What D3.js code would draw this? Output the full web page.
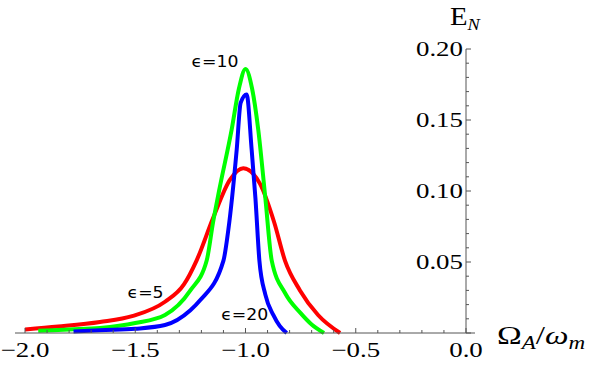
<!DOCTYPE html>
<html>
<head>
<meta charset="utf-8">
<script src="https://cdn.jsdelivr.net/npm/d3@7"></script>
<style>
  body { margin: 0; background: #fff; }
  svg { display: block; }
  .tick-label { font-family: 'Liberation Serif', serif; font-size: 21px; fill: #000; }
  .axis-title { font-family: 'Liberation Serif', serif; fill: #000; }
  .curve-label { font-family: 'DejaVu Sans', sans-serif; font-size: 16px; fill: #000; }
</style>
</head>
<body>
<svg id="chart" width="589" height="367"></svg>
<script>
// values: [Omega_A / omega_m, E_N]
const eps5 = [[-2.00, 0.0025], [-1.85, 0.0045], [-1.66, 0.0077], [-1.51, 0.012], [-1.365, 0.022],
  [-1.28, 0.034], [-1.222, 0.051], [-1.147, 0.081], [-1.07, 0.108], [-1.01, 0.116],
  [-0.934, 0.105], [-0.87, 0.078], [-0.821, 0.051], [-0.753, 0.030], [-0.671, 0.0127], [-0.571, 0]];
const eps10 = [[-1.94, 0.0015], [-1.80, 0.0025], [-1.66, 0.0035], [-1.50, 0.007], [-1.365, 0.0127],
  [-1.25, 0.030], [-1.176, 0.051], [-1.147, 0.078], [-1.12, 0.10], [-1.063, 0.143], [-1.03, 0.172],
  [-1.0, 0.186], [-0.97, 0.172], [-0.942, 0.143], [-0.91, 0.095], [-0.881, 0.051], [-0.82, 0.028],
  [-0.75, 0.014], [-0.70, 0.006], [-0.644, 0]];
const eps20 = [[-1.78, 0.001], [-1.66, 0.002], [-1.50, 0.003], [-1.365, 0.0056], [-1.25, 0.016],
  [-1.206, 0.023], [-1.10, 0.051], [-1.078, 0.0725], [-1.04, 0.129], [-1.022, 0.162], [-0.995, 0.168],
  [-0.972, 0.129], [-0.955, 0.095], [-0.937, 0.051], [-0.91, 0.027], [-0.874, 0.0127], [-0.845, 0.005],
  [-0.813, 0]];

const series = [
  { key: 'eps5', color: '#ff0000', values: eps5 },
  { key: 'eps10', color: '#00ff00', values: eps10 },
  { key: 'eps20', color: '#0000ff', values: eps20 },
];
const labels = [
  { text: 'ϵ=10', at: [-1.245, 0.1875] },
  { text: 'ϵ=5', at: [-1.535, 0.0245] },
  { text: 'ϵ=20', at: [-1.11, 0.0092] },
];
const xDomain = [-2, 0];
const yDomain = [0, 0.2];

const svg = d3.select('#chart');
const x = d3.scaleLinear().domain(xDomain).range([25, 466]);
const y = d3.scaleLinear().domain(yDomain).range([333, 49]);
const axisColor = '#555';
const stretch = 1.28; // the serif text in the picture is drawn wide

// curves
const line = d3.line()
  .x(d => x(d[0]))
  .y(d => y(d[1]))
  .curve(d3.curveMonotoneX);

svg.selectAll('path.curve')
  .data(series)
  .join('path')
    .attr('class', 'curve')
    .attr('fill', 'none')
    .attr('stroke', d => d.color)
    .attr('stroke-width', 4)
    .attr('stroke-linejoin', 'round')
    .attr('d', d => line(d.values));

// x axis, ticks pointing up
const xa = svg.append('g');
xa.append('line')
  .attr('x1', 15).attr('x2', 475)
  .attr('y1', y(0)).attr('y2', y(0))
  .attr('stroke', axisColor);
const xMajor = x.ticks(4);
const isMajor = (list, d) => list.some(m => Math.abs(m - d) < 1e-9);
xa.selectAll('line.minor')
  .data(x.ticks(20))
  .join('line')
    .attr('class', 'minor')
    .attr('x1', d => x(d)).attr('x2', d => x(d))
    .attr('y1', y(0)).attr('y2', d => y(0) - (isMajor(xMajor, d) ? 5 : 3))
    .attr('stroke', axisColor);
xa.selectAll('text')
  .data(xMajor)
  .join('text')
    .attr('class', 'tick-label')
    .attr('transform', d => `translate(${[x(d), y(0) + 24]}) scale(${stretch},1)`)
    .attr('text-anchor', 'middle')
    .text(d3.format('.1f'));

// y axis on the right edge, ticks pointing right
const ya = svg.append('g');
ya.append('line')
  .attr('x1', x(0)).attr('x2', x(0))
  .attr('y1', y(0.2)).attr('y2', y(0))
  .attr('stroke', axisColor);
const yMajor = y.ticks(4);
ya.selectAll('line.minor')
  .data(y.ticks(20))
  .join('line')
    .attr('class', 'minor')
    .attr('x1', x(0)).attr('x2', d => x(0) + (isMajor(yMajor, d) ? 5 : 3))
    .attr('y1', d => y(d)).attr('y2', d => y(d))
    .attr('stroke', axisColor);
ya.selectAll('text')
  .data(yMajor.filter(d => d > 0))
  .join('text')
    .attr('class', 'tick-label')
    .attr('transform', d => `translate(${[x(0) - 3, y(d) + 7]}) scale(${stretch},1)`)
    .attr('text-anchor', 'end')
    .text(d3.format('.2f'));

// axis titles
const yt = svg.append('text')
  .attr('class', 'axis-title')
  .attr('transform', `translate(450,25) scale(1.15,1)`)
  .style('font-size', '25px');
yt.append('tspan').text('E');
yt.append('tspan').attr('dy', 5).style('font-size', '16px').style('font-style', 'italic').text('N');

const xt = svg.append('text')
  .attr('class', 'axis-title')
  .attr('transform', `translate(497,344) scale(${stretch},1)`)
  .style('font-size', '26px');
xt.append('tspan').text('Ω');
xt.append('tspan').attr('dy', 5).style('font-size', '18px').style('font-style', 'italic').text('A');
xt.append('tspan').attr('dy', -5).text('/');
xt.append('tspan').style('font-style', 'italic').text('ω');
xt.append('tspan').attr('dy', 5).style('font-size', '18px').style('font-style', 'italic').text('m');

// curve labels
svg.selectAll('text.curve-label')
  .data(labels)
  .join('text')
    .attr('class', 'curve-label')
    .attr('transform', d => `translate(${[x(d.at[0]), y(d.at[1])]}) scale(1.08,1)`)
    .text(d => d.text);
</script>
</body>
</html>
